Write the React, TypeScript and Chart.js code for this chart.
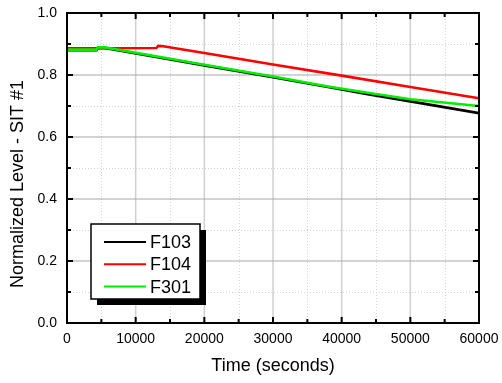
import React, { useEffect, useRef } from "react";
import { Chart, registerables } from "chart.js";

Chart.register(...registerables);

const seriesNames = ["F103", "F104", "F301"];
const seriesColors = ["#000000", "#ff0000", "#00ee00"];

const f103X = [0, 4300, 4500, 5500, 20000, 30000, 38000, 44000, 50000, 60000];
const f103Y = [0.88, 0.88, 0.887, 0.887, 0.831, 0.793, 0.761, 0.737, 0.715, 0.677];

const f104X = [0, 13000, 13300, 14000, 20000, 30000, 40000, 50000, 60000];
const f104Y = [0.886, 0.887, 0.894, 0.893, 0.871, 0.834, 0.798, 0.761, 0.725];

const f301X = [0, 4300, 4500, 5500, 20000, 30000, 38000, 44000, 50000, 60000];
const f301Y = [0.882, 0.882, 0.889, 0.889, 0.833, 0.795, 0.763, 0.742, 0.722, 0.7];

const xMin = 0;
const xMax = 60000;
const xMajor = 10000;
const xMinor = 5000;
const yMin = 0;
const yMax = 1;
const yMajor = 0.2;
const yMinor = 0.1;

const xTitle = "Time (seconds)";
const yTitle = "Normalized Level - SIT #1";

const FONT = "Arial, 'Liberation Sans', sans-serif";

function pts(xs: number[], ys: number[]) {
  return xs.map((x, i) => ({ x, y: ys[i] }));
}

function zeroPad(s: any) {
  s.paddingLeft = 0;
  s.paddingRight = 0;
  s.paddingTop = 0;
  s.paddingBottom = 0;
}

const decorPlugin = {
  id: "decor",
  beforeDatasetsDraw(chart: any) {
    const { ctx, chartArea: a, scales } = chart;
    const xs = scales.x;
    const ys = scales.y;
    ctx.save();
    // minor dotted grid
    ctx.lineWidth = 1;
    ctx.strokeStyle = "#d4d4d4";
    ctx.setLineDash([1, 2]);
    for (let v = xMin + xMinor; v < xMax; v += xMajor) {
      const px = Math.round(xs.getPixelForValue(v)) + 0.5;
      ctx.beginPath();
      ctx.moveTo(px, a.top);
      ctx.lineTo(px, a.bottom);
      ctx.stroke();
    }
    for (let v = yMin + yMinor; v < yMax; v += yMajor) {
      const py = Math.round(ys.getPixelForValue(v)) + 0.5;
      ctx.beginPath();
      ctx.moveTo(a.left, py);
      ctx.lineTo(a.right, py);
      ctx.stroke();
    }
    ctx.setLineDash([]);
    // major grid
    ctx.strokeStyle = "#d0d0d0";
    ctx.lineWidth = 1.5;
    for (let v = xMin + xMajor; v < xMax; v += xMajor) {
      const px = xs.getPixelForValue(v);
      ctx.beginPath();
      ctx.moveTo(px, a.top);
      ctx.lineTo(px, a.bottom);
      ctx.stroke();
    }
    ctx.strokeStyle = "#a8a8a8";
    ctx.lineWidth = 1.2;
    for (let v = yMin + yMajor; v < yMax - 1e-9; v += yMajor) {
      const py = ys.getPixelForValue(v);
      ctx.beginPath();
      ctx.moveTo(a.left, py);
      ctx.lineTo(a.right, py);
      ctx.stroke();
    }
    ctx.restore();
  },
  afterDraw(chart: any) {
    const { ctx, chartArea: a, scales } = chart;
    const xs = scales.x;
    const ys = scales.y;
    ctx.save();
    // frame
    ctx.strokeStyle = "#000";
    ctx.lineWidth = 2;
    ctx.strokeRect(a.left, a.top, a.right - a.left, a.bottom - a.top);
    // ticks inward
    ctx.lineWidth = 2;
    for (let v = xMin; v <= xMax + 1e-6; v += xMinor) {
      const major = Math.abs((v / xMajor) - Math.round(v / xMajor)) < 1e-6;
      const len = major ? 6 : 4;
      const px = xs.getPixelForValue(v);
      ctx.beginPath();
      ctx.moveTo(px, a.bottom);
      ctx.lineTo(px, a.bottom - len);
      ctx.moveTo(px, a.top);
      ctx.lineTo(px, a.top + len);
      ctx.stroke();
    }
    for (let v = yMin; v <= yMax + 1e-6; v += yMinor) {
      const major = Math.abs((v / yMajor) - Math.round(v / yMajor)) < 1e-6;
      const len = major ? 6 : 4;
      const py = ys.getPixelForValue(v);
      ctx.beginPath();
      ctx.moveTo(a.left, py);
      ctx.lineTo(a.left + len, py);
      ctx.moveTo(a.right, py);
      ctx.lineTo(a.right - len, py);
      ctx.stroke();
    }
    // titles
    ctx.fillStyle = "#000";
    ctx.font = `18px ${FONT}`;
    ctx.textAlign = "center";
    ctx.textBaseline = "middle";
    ctx.fillText(xTitle, (a.left + a.right) / 2, 366);
    ctx.save();
    ctx.translate(18, 184);
    ctx.rotate(-Math.PI / 2);
    ctx.fillText(yTitle, 0, 0);
    ctx.restore();
    // legend
    const bx = 91, by = 224, bw = 109, bh = 75;
    ctx.fillStyle = "#000";
    ctx.fillRect(bx + 6, by + 6, bw, bh);
    ctx.fillStyle = "#fff";
    ctx.fillRect(bx, by, bw, bh);
    ctx.lineWidth = 1.5;
    ctx.strokeStyle = "#000";
    ctx.strokeRect(bx, by, bw, bh);
    ctx.font = `18px ${FONT}`;
    ctx.textAlign = "left";
    ctx.textBaseline = "middle";
    chart.data.datasets.forEach((ds: any, i: number) => {
      const y = 242 + i * 22.3;
      ctx.strokeStyle = ds.borderColor;
      ctx.lineWidth = 2;
      ctx.beginPath();
      ctx.moveTo(104, y);
      ctx.lineTo(146, y);
      ctx.stroke();
      ctx.fillStyle = "#000";
      ctx.fillText(ds.label, 150, y + 1);
    });
    ctx.restore();
  },
};

export default function App() {
  const ref = useRef<HTMLCanvasElement | null>(null);
  useEffect(() => {
    if (!ref.current) return;
    const series = [pts(f103X, f103Y), pts(f104X, f104Y), pts(f301X, f301Y)];
    const chart = new Chart(ref.current, {
      type: "line",
      data: {
        datasets: series.map((d, i) => ({
          label: seriesNames[i],
          data: d,
          borderColor: seriesColors[i],
          backgroundColor: seriesColors[i],
          borderWidth: 2.6,
          pointRadius: 0,
          tension: 0,
          fill: false,
          order: 3 - i,
        })),
      },
      options: {
        animation: false,
        responsive: true,
        maintainAspectRatio: false,
        layout: { padding: { top: 13, right: 23, left: 0, bottom: 0 } },
        plugins: { legend: { display: false }, tooltip: { enabled: false } },
        scales: {
          x: {
            type: "linear",
            min: xMin,
            max: xMax,
            grid: { display: false, drawTicks: false },
            border: { display: false },
            afterFit: (s: any) => {
              s.height = 60;
              zeroPad(s);
            },
            ticks: {
              stepSize: xMajor,
              padding: 8,
              maxRotation: 0,
              color: "#000",
              font: { family: FONT, size: 14 },
              callback: (v: any) => String(v),
            },
          },
          y: {
            type: "linear",
            min: yMin,
            max: yMax,
            grid: { display: false, drawTicks: false },
            border: { display: false },
            afterFit: (s: any) => {
              s.width = 67;
              zeroPad(s);
            },
            ticks: {
              stepSize: yMajor,
              padding: 10,
              color: "#000",
              font: { family: FONT, size: 14 },
              callback: (v: any) => Number(v).toFixed(1),
            },
          },
        },
      },
      plugins: [decorPlugin],
    });
    return () => chart.destroy();
  }, []);
  return (
    <div style={{ position: "absolute", left: 0, top: 0, width: 502, height: 383, background: "#fff" }}>
      <canvas ref={ref} />
    </div>
  );
}
